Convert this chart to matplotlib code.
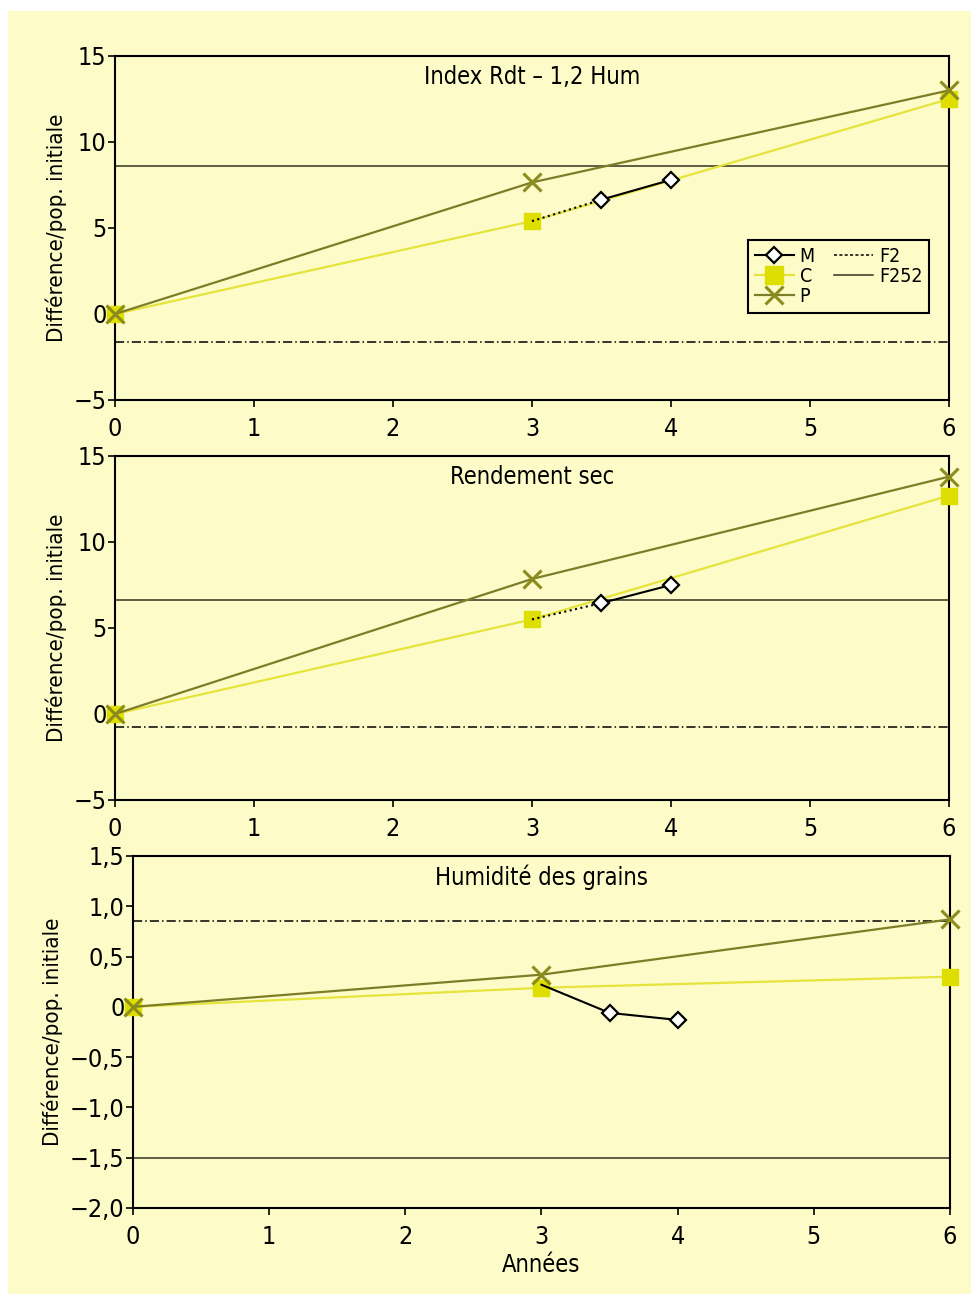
import matplotlib
matplotlib.use("Agg")
import matplotlib.pyplot as plt
from matplotlib.patches import Rectangle
from matplotlib.lines import Line2D

plt.rcParams['font.family'] = ['DejaVu Sans']
plt.rcParams['font.stretch'] = 'condensed'

# ---------------- data ----------------
titles = ["Index Rdt \u2013 1,2 Hum", "Rendement sec", "Humidit\u00e9 des grains"]
years_PC = [0, 3, 6]
P_vals = [[0, 7.65, 13.0], [0, 7.85, 13.8], [0, 0.32, 0.87]]
C_vals = [[0, 5.4, 12.5], [0, 5.5, 12.7], [0, 0.19, 0.30]]
years_M = [3, 3.5, 4]
M_vals = [[5.4, 6.65, 7.8], [5.5, 6.45, 7.5], [0.22, -0.06, -0.13]]
F2_vals = [-1.6, -0.75, 0.85]
F252_vals = [8.6, 6.6, -1.5]
ylims = [(-5, 15), (-5, 15), (-2.0, 1.5)]
yticks = [[-5, 0, 5, 10, 15], [-5, 0, 5, 10, 15],
          [-2.0, -1.5, -1.0, -0.5, 0, 0.5, 1.0, 1.5]]
yticklabels = [["\u22125", "0", "5", "10", "15"],
               ["\u22125", "0", "5", "10", "15"],
               ["\u22122,0", "\u22121,5", "\u22121,0", "\u22120,5", "0", "0,5", "1,0", "1,5"]]
xticks = [0, 1, 2, 3, 4, 5, 6]
ylabel = "Diff\u00e9rence/pop. initiale"
xlabel = "Ann\u00e9es"

BG = "#fdfcc8"
P_COL = "#7d7d28"
P_MK = "#8c8c1e"
C_COL = "#e4e43c"
C_MK = "#dede00"

fig = plt.figure(figsize=(9.78, 12.98), dpi=100, facecolor="white")
fig.patches.append(Rectangle((8/978, 1 - 1294/1298), 963/978, 1283/1298,
                             transform=fig.transFigure, facecolor=BG,
                             edgecolor="none", zorder=-10))

positions = [
    [115/978, 1 - 400/1298, 834/978, 344/1298],
    [115/978, 1 - 800/1298, 834/978, 344/1298],
    [133/978, 1 - 1208/1298, 817/978, 352/1298],
]
m_first_style = [":", ":", "-"]

for i in range(3):
    ax = fig.add_axes(positions[i])
    ax.set_facecolor(BG)
    ax.set_xlim(0, 6)
    ax.set_ylim(*ylims[i])
    ax.set_xticks(xticks)
    ax.set_xticklabels([str(x) for x in xticks])
    ax.set_yticks(yticks[i])
    ax.set_yticklabels(yticklabels[i])
    ax.tick_params(axis='both', direction='out', length=5, width=1.2,
                   labelsize=18, color='black')
    ax.tick_params(axis='x', pad=7)
    ax.tick_params(axis='y', pad=1)
    for s in ax.spines.values():
        s.set_linewidth(1.5)
        s.set_color("black")

    # reference lines
    ax.axhline(F2_vals[i], color="black", lw=1.1, ls=(0, (6, 2, 1, 2)), zorder=2)
    ax.axhline(F252_vals[i], color="#333320", lw=1.1, ls="-", zorder=2)

    # C and P
    ax.plot(years_PC, C_vals[i], color=C_COL, lw=1.6, marker="s", ms=11,
            mfc=C_MK, mec=C_MK, clip_on=False, zorder=4)
    ax.plot(years_PC, P_vals[i], color=P_COL, lw=1.6, marker="x", ms=13,
            mew=2.2, mec=P_MK, clip_on=False, zorder=5)
    # M: connector from year 3 then measured points
    ax.plot(years_M[:2], M_vals[i][:2], color="black", lw=1.5,
            ls=m_first_style[i], zorder=6)
    ax.plot(years_M[1:], M_vals[i][1:], color="black", lw=1.5, zorder=6)
    ax.plot(years_M[1:], M_vals[i][1:], ls="none", marker="D", ms=8,
            mfc="white", mec="black", mew=1.6, zorder=7)

    ax.text(0.5, 0.94, titles[i], transform=ax.transAxes, ha="center",
            va="center", fontsize=17)
    ax.set_ylabel(ylabel, fontsize=16, labelpad=5)

    if i == 0:
        hm = Line2D([], [], color="black", lw=1.5, marker="D", ms=8,
                    mfc="white", mec="black", mew=1.6)
        hc = Line2D([], [], color=C_COL, lw=1.6, marker="s", ms=13,
                    mfc=C_MK, mec=C_MK)
        hp = Line2D([], [], color=P_COL, lw=1.6, marker="x", ms=13, mew=2.2,
                    mec=P_MK)
        hf2 = Line2D([], [], color="black", lw=1.1, ls=(0, (2, 1.5)))
        hf252 = Line2D([], [], color="#333320", lw=1.1)
        leg = ax.legend([hm, hc, hp, hf2, hf252], ["M", "C", "P", "F2", "F252"],
                        ncol=2, loc="upper left",
                        bbox_to_anchor=((748 - 115) / 834, 1 - (240 - 56) / 344),
                        fontsize=14, frameon=True, fancybox=False,
                        edgecolor="black", facecolor=BG, framealpha=1,
                        handlelength=2.0, handletextpad=0.3, columnspacing=1.0,
                        labelspacing=0.05, borderpad=0.35, borderaxespad=0)
        leg.get_frame().set_linewidth(1.5)

    if i == 2:
        ax.set_xlabel(xlabel, fontsize=17, labelpad=3)

fig.savefig("out.png", dpi=100, facecolor="white")
